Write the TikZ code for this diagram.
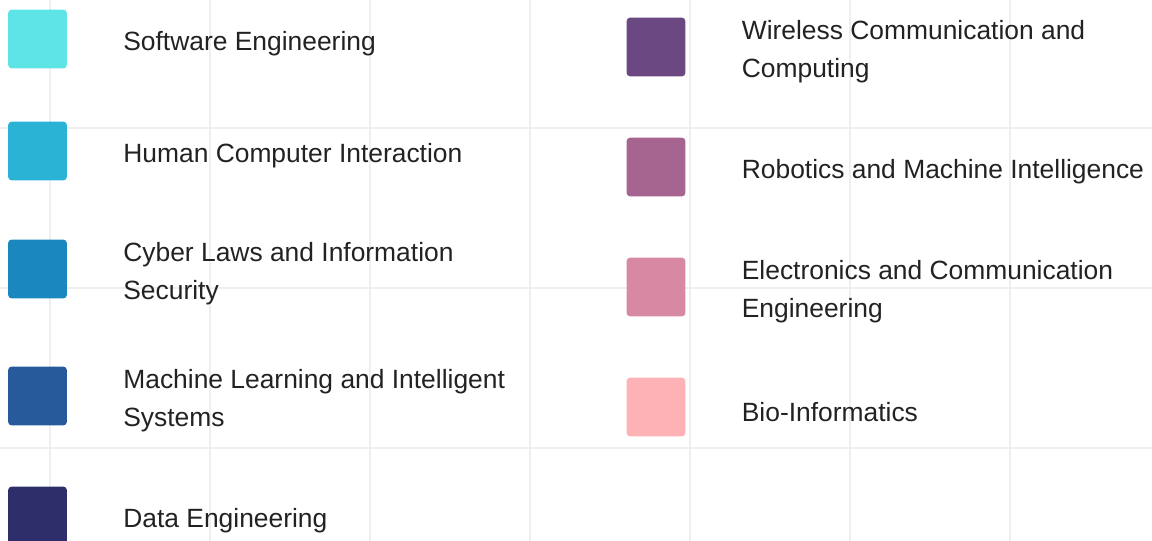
\documentclass[tikz,border=0pt]{standalone}
\usepackage{fontspec}
\setmainfont{Liberation Sans}
\usetikzlibrary{positioning}

\definecolor{gridline}{HTML}{EFEFEF}
\definecolor{ink}{HTML}{222222}
\definecolor{cSE}{HTML}{5EE3E6}
\definecolor{cHCI}{HTML}{2BB3D6}
\definecolor{cCyber}{HTML}{1A88BE}
\definecolor{cML}{HTML}{265A9A}
\definecolor{cData}{HTML}{2E2E6B}
\definecolor{cWireless}{HTML}{6C4883}
\definecolor{cRobotics}{HTML}{A66491}
\definecolor{cElectronics}{HTML}{D788A3}
\definecolor{cBio}{HTML}{FEB2B6}

\tikzset{
  swatch/.style={fill=#1, rounded corners=2.5pt, minimum size=44pt, inner sep=0pt},
  area/.style={inner sep=0pt, align=left, text=ink, yshift=-3.5pt,
    font=\fontsize{19.8}{28.5}\selectfont}
}

\begin{document}
\begin{tikzpicture}[x=0.75pt, y=-0.75pt, node distance=42pt]

    \useasboundingbox (0,0) rectangle (1152,541);

    % background grid
    \foreach \gx in {50,210,...,1010}
        \draw[gridline, line width=1.5pt] (\gx,0) -- (\gx,541);
    \foreach \gy in {128,288,448}
        \draw[gridline, line width=1.5pt] (0,\gy) -- (1152,\gy);

    \node[swatch=cSE] (se) at (37.5,39) {};
    \node[area] (seText) [right = of se] {Software Engineering};

    \node[swatch=cHCI] (hci) at (37.5,151) {};
    \node[area] (hciText) [right = of hci] {Human Computer Interaction};

    \node[swatch=cCyber] (cyber) at (37.5,269) {};
    \node[area] (cyberText) [right = of cyber] {Cyber Laws and Information\\Security};

    \node[swatch=cML] (ml) at (37.5,396) {};
    \node[area] (mlText) [right = of ml] {Machine Learning and Intelligent\\Systems};

    \node[swatch=cData] (data) at (37.5,516) {};
    \node[area] (dataText) [right = of data] {Data Engineering};

    \node[swatch=cWireless] (wireless) at (656,47) {};
    \node[area] (wirelessText) [right = of wireless] {Wireless Communication and\\Computing};

    \node[swatch=cRobotics] (robotics) at (656,167) {};
    \node[area] (roboticsText) [right = of robotics] {Robotics and Machine Intelligence};

    \node[swatch=cElectronics] (electronics) at (656,287) {};
    \node[area] (electronicsText) [right = of electronics] {Electronics and Communication\\Engineering};

    \node[swatch=cBio] (bio) at (656,407) {};
    \node[area] (bioText) [right = of bio] {Bio-Informatics};

\end{tikzpicture}
\end{document}
